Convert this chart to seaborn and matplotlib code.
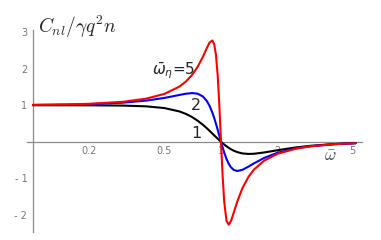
import matplotlib
matplotlib.use("Agg")
import matplotlib.pyplot as plt
import matplotlib.ticker as mticker
import numpy as np
import pandas as pd
import seaborn as sns

# values (log x axis)
omega = [0.1, 0.15, 0.2, 0.3, 0.4, 0.5, 0.6, 0.65, 0.7, 0.75,
         0.8, 0.84, 0.87, 0.9, 0.92, 0.94, 0.96, 0.98, 1.0, 1.02,
         1.04, 1.07, 1.1, 1.13, 1.17, 1.22, 1.3, 1.4, 1.5, 1.7,
         2.0, 2.5, 3.0, 4.0, 5.2]

c_eta1 = [1.000, 0.999, 0.998, 0.991, 0.970, 0.923, 0.832, 0.764, 0.680, 0.580,
          0.468, 0.372, 0.298, 0.225, 0.177, 0.130, 0.085, 0.041, 0.0, -0.039,
          -0.075, -0.124, -0.167, -0.205, -0.245, -0.283, -0.319, -0.333, -0.328, -0.292,
          -0.231, -0.155, -0.110, -0.062, -0.037]

c_eta2 = [1.008, 1.017, 1.031, 1.070, 1.127, 1.200, 1.281, 1.315, 1.333, 1.318,
          1.243, 1.119, 0.979, 0.796, 0.653, 0.496, 0.331, 0.164, 0.0, -0.154,
          -0.295, -0.472, -0.606, -0.699, -0.771, -0.800, -0.768, -0.680, -0.588, -0.440,
          -0.300, -0.180, -0.121, -0.066, -0.038]

c_eta5 = [1.010, 1.022, 1.040, 1.094, 1.180, 1.310, 1.509, 1.648, 1.823, 2.045,
          2.320, 2.562, 2.720, 2.774, 2.674, 2.381, 1.823, 0.990, 0.0, -0.934,
          -1.635, -2.169, -2.270, -2.168, -1.933, -1.639, -1.269, -0.960, -0.756, -0.513,
          -0.328, -0.189, -0.124, -0.066, -0.038]

eta_names = ["1", "2", "5"]
colors = ["black", "#0000ff", "#ff0000"]

xticks = [0.2, 0.5, 1, 2, 5]
xtick_labels = ["0.2", "0.5", "1", "2", "5"]
yticks = [-2, -1, 1, 2, 3]
ytick_labels = ["- 2", "- 1", "1", "2", "3"]

df = pd.concat([
    pd.DataFrame({"omega": omega, "C": c, "eta": name})
    for c, name in zip([c_eta1, c_eta2, c_eta5], eta_names)
])

sns.set_style("white")
plt.rcParams["mathtext.fontset"] = "cm"

fig = plt.figure(figsize=(3.81, 2.40), dpi=100)
ax = fig.add_axes([27 / 381, 8 / 240, 335 / 381, 202 / 240])

sns.lineplot(data=df, x="omega", y="C", hue="eta", hue_order=eta_names,
             palette=colors, linewidth=1.5, legend=False, ax=ax, zorder=3)

ax.set_xscale("log")
ax.set_xlim(0.093, 5.62)
ax.set_ylim(-2.47, 3.06)

gray = "#8a8a8a"
for s in ["top", "right"]:
    ax.spines[s].set_visible(False)
ax.spines["left"].set_position(("data", 0.1))
ax.spines["bottom"].set_position(("data", 0))
for s in ["left", "bottom"]:
    ax.spines[s].set_color(gray)
    ax.spines[s].set_linewidth(0.9)

ax.set_xticks(xticks)
ax.set_xticklabels(xtick_labels)
ax.xaxis.set_minor_locator(mticker.LogLocator(base=10, subs=np.arange(1, 10) / 2.0, numticks=20))
ax.xaxis.set_minor_formatter(mticker.NullFormatter())
ax.set_yticks(yticks)
ax.set_yticklabels(ytick_labels)

ax.tick_params(axis="both", which="major", direction="in", length=3, width=0.6,
               color="#b0b0b0", labelcolor="#777777", labelsize=7, pad=3)
ax.tick_params(axis="x", which="minor", direction="in", length=1.8, width=0.5, color="#c8c8c8")
ax.tick_params(axis="y", which="major", pad=4)
ax.set_xlabel("")
ax.set_ylabel("")

# curve labels
ax.text(0.727, 1.85, r"$\bar{\omega}_\eta$=5", ha="right", va="baseline",
        fontsize=11, math_fontfamily="dejavusans")
ax.text(0.736, 0.87, "2", ha="center", va="baseline", fontsize=11.5)
ax.text(0.736, 0.10, "1", ha="center", va="baseline", fontsize=11.5)

fig.text(38 / 381, (240 - 33) / 240, r"$C_{nl}/\gamma q^2 n$", fontsize=14,
         ha="left", va="baseline")
fig.text(330 / 381, (240 - 161) / 240, r"$\bar{\omega}$", fontsize=12.5,
         ha="center", va="baseline", color="#444444")

fig.savefig("out.png", dpi=100)
